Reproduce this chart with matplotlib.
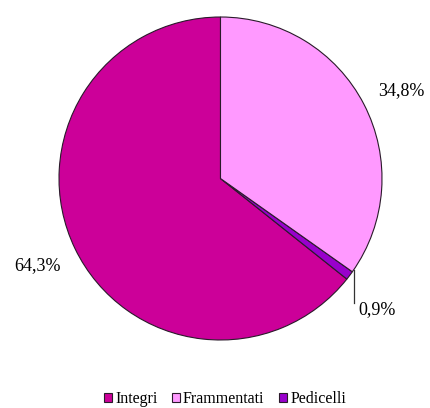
import matplotlib
matplotlib.use('Agg')
import matplotlib.pyplot as plt

labels = ['Integri', 'Frammentati', 'Pedicelli']
values = [64.3, 34.8, 0.9]
colors = ['#CC0099', '#FF99FF', '#9900CC']

plt.rcParams['font.family'] = ['Liberation Serif', 'DejaVu Serif']

# wedges go counter-clockwise from the top: Integri, Pedicelli, Frammentati
order = [0, 2, 1]

fig = plt.figure(figsize=(4.30, 4.08), dpi=100)
# pie centred at (220.5, 178.5) px, radius 161.5 px
ax = fig.add_axes([59 / 430, 68 / 408, 323 / 430, 323 / 408])
wedges, _ = ax.pie([values[i] for i in order], colors=[colors[i] for i in order],
                   startangle=90, counterclock=True, radius=1.0,
                   wedgeprops=dict(edgecolor='#2a1a2a', linewidth=0.8))
ax.set_xlim(-1, 1)
ax.set_ylim(-1, 1)
handles = [wedges[order.index(i)] for i in range(len(labels))]

fmt = lambda v: f'{v:.1f}%'.replace('.', ',')
ax.text(-1.136, -0.542, fmt(values[0]), ha='center', va='center', fontsize=13)
ax.text(1.118, 0.542, fmt(values[1]), ha='center', va='center', fontsize=13)
ax.text(0.969, -0.814, fmt(values[2]), ha='center', va='center', fontsize=13)
ax.plot([0.827, 0.827], [-0.567, -0.77], color='#333333', linewidth=0.9,
        clip_on=False)

fig.legend(handles, labels, loc='center', bbox_to_anchor=(225 / 430, 1 - 399 / 408),
           ncol=3, frameon=False, fontsize=11.5, handlelength=0.5,
           handleheight=0.5, handletextpad=0.2, columnspacing=0.9)

fig.savefig('out.png', dpi=100)
